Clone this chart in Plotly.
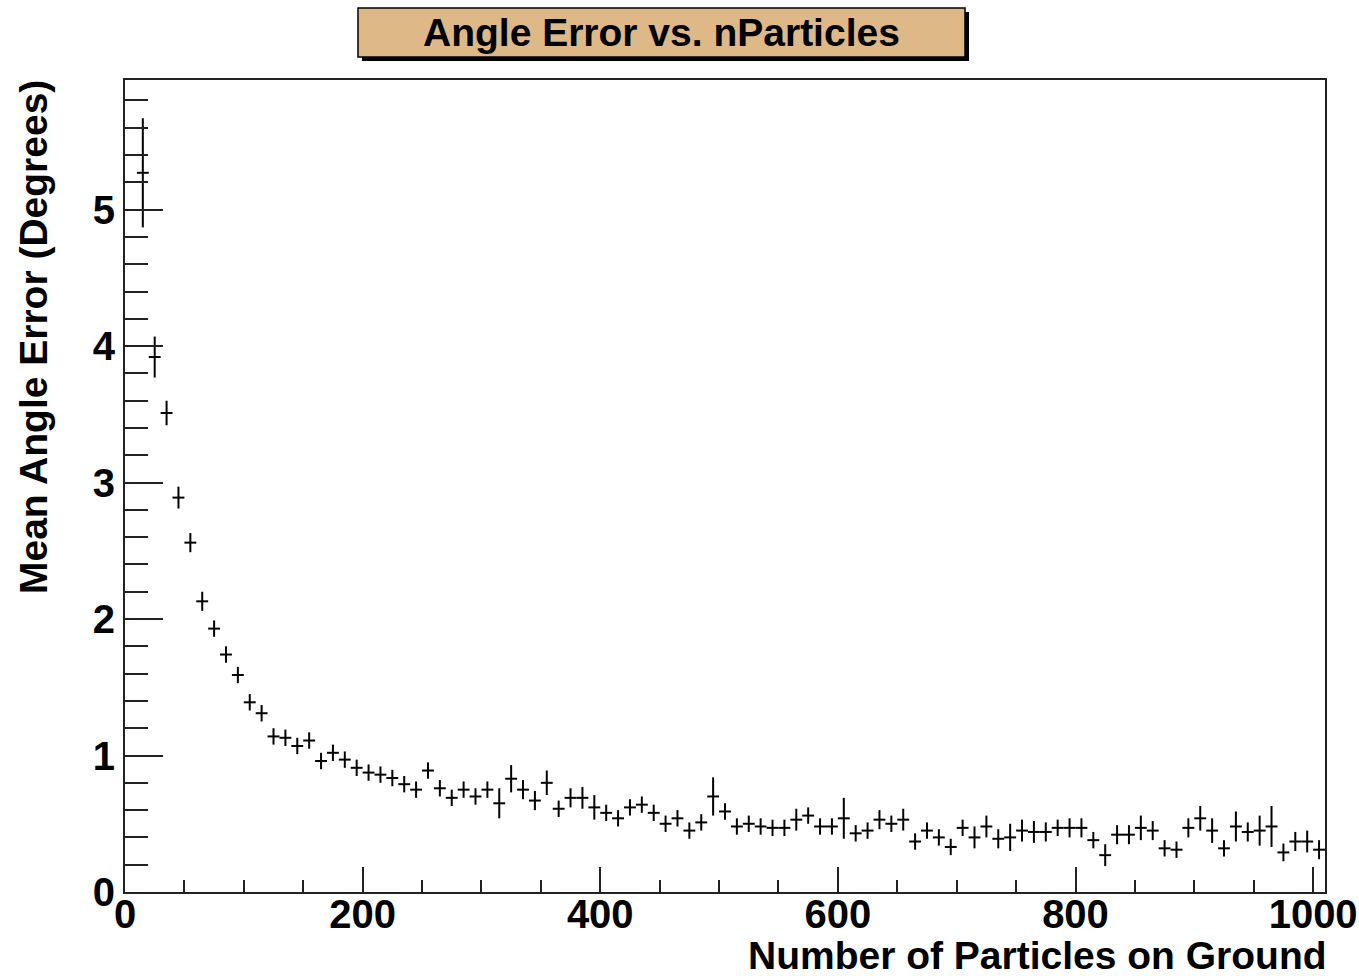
import plotly.graph_objects as go

# Bin centres (number of particles on ground)
n_particles = [15 + 10 * i for i in range(100)]

mean_angle_error = [
    5.27, 3.92, 3.51, 2.89, 2.56, 2.13, 1.93, 1.74, 1.59, 1.39,
    1.31, 1.14, 1.13, 1.07, 1.11, 0.96, 1.02, 0.97, 0.91, 0.875,
    0.86, 0.835, 0.79, 0.75, 0.89, 0.76, 0.69, 0.75, 0.70, 0.75,
    0.65, 0.83, 0.75, 0.67, 0.80, 0.61, 0.69, 0.69, 0.62, 0.58,
    0.54, 0.62, 0.64, 0.58, 0.50, 0.54, 0.45, 0.51, 0.70, 0.59,
    0.48, 0.50, 0.48, 0.47, 0.47, 0.53, 0.56, 0.48, 0.48, 0.54,
    0.43, 0.45, 0.53, 0.50, 0.53, 0.37, 0.45, 0.40, 0.33, 0.47,
    0.40, 0.48, 0.39, 0.40, 0.45, 0.44, 0.44, 0.47, 0.47, 0.47,
    0.38, 0.27, 0.42, 0.42, 0.47, 0.45, 0.32, 0.31, 0.47, 0.54,
    0.45, 0.32, 0.48, 0.44, 0.45, 0.48, 0.29, 0.37, 0.37, 0.31,
]

error_of_mean = [
    0.40, 0.15, 0.09, 0.08, 0.07, 0.07, 0.06, 0.06, 0.06, 0.06,
    0.06, 0.06, 0.06, 0.06, 0.06, 0.06, 0.06, 0.06, 0.06, 0.06,
    0.06, 0.06, 0.06, 0.06, 0.06, 0.06, 0.06, 0.06, 0.06, 0.06,
    0.11, 0.10, 0.07, 0.07, 0.09, 0.06, 0.07, 0.08, 0.09, 0.06,
    0.06, 0.06, 0.06, 0.06, 0.06, 0.06, 0.06, 0.06, 0.14, 0.06,
    0.06, 0.06, 0.06, 0.06, 0.06, 0.08, 0.06, 0.06, 0.06, 0.15,
    0.06, 0.06, 0.07, 0.06, 0.08, 0.06, 0.06, 0.06, 0.06, 0.06,
    0.08, 0.08, 0.07, 0.10, 0.08, 0.08, 0.07, 0.06, 0.07, 0.07,
    0.06, 0.08, 0.07, 0.07, 0.09, 0.07, 0.06, 0.06, 0.07, 0.09,
    0.09, 0.06, 0.11, 0.07, 0.11, 0.15, 0.065, 0.07, 0.08, 0.07,
]

bin_half_width = 5

title_text = "Angle Error vs. nParticles"
x_title = "Number of Particles on Ground"
y_title = "Mean Angle Error (Degrees)"

FONT = "Liberation Sans"

# plot-area geometry in pixels
W, H = 1359, 976
L, R, T, B = 125, 1325, 80, 892
pw, ph = R - L, B - T


def px_x(p):
    return (p - L) / pw


def px_y(p):
    return (B - p) / ph


fig = go.Figure()
fig.add_trace(go.Scatter(
    x=n_particles,
    y=mean_angle_error,
    mode="markers",
    marker=dict(size=1, color="black", opacity=0),
    error_y=dict(type="data", array=error_of_mean, visible=True,
                 color="black", thickness=2, width=0),
    error_x=dict(type="constant", value=bin_half_width, visible=True,
                 color="black", thickness=2, width=0),
    showlegend=False,
    hoverinfo="x+y",
))

axis_common = dict(
    showgrid=False, zeroline=False, automargin=False,
    showline=True, linecolor="#222222", linewidth=2, mirror=True,
    ticks="inside", tickcolor="#222222", tickwidth=2,
    tickfont=dict(family=FONT, size=40, color="black", weight="bold"),
)

fig.update_xaxes(
    range=[0, 1010], tick0=0, dtick=200, ticklen=25, ticklabelstandoff=-14,
    minor=dict(dtick=50, ticklen=12, ticks="inside", tickcolor="#222222", tickwidth=2),
    **axis_common,
)
fig.update_yaxes(
    range=[0, 5.95], tick0=0, dtick=1, ticklen=38,
    minor=dict(dtick=0.2, ticklen=23, ticks="inside", tickcolor="#222222", tickwidth=2),
    **axis_common,
)

shapes = [
    # title shadow
    dict(type="rect", xref="paper", yref="paper",
         x0=px_x(362), x1=px_x(969), y0=px_y(61), y1=px_y(12),
         fillcolor="black", line=dict(width=0), layer="above"),
    # title box
    dict(type="rect", xref="paper", yref="paper",
         x0=px_x(358), x1=px_x(965), y0=px_y(57), y1=px_y(8),
         fillcolor="#DEB887", line=dict(color="black", width=1.5), layer="above"),
]

annotations = [
    dict(text=title_text, xref="paper", yref="paper",
         x=px_x(661), y=px_y(32), xanchor="center", yanchor="middle",
         showarrow=False,
         font=dict(family=FONT, size=39, color="black", weight="bold")),
    dict(text=x_title, xref="paper", yref="paper",
         x=px_x(1329), y=px_y(955), xanchor="right", yanchor="middle",
         showarrow=False,
         font=dict(family=FONT, size=39, color="black", weight="bold")),
    dict(text=y_title, xref="paper", yref="paper",
         x=px_x(34), y=px_y(78), xanchor="center", yanchor="top", textangle=-90,
         showarrow=False,
         font=dict(family=FONT, size=39, color="black", weight="bold")),
]

fig.update_layout(
    width=W, height=H,
    margin=dict(l=L, r=W - R, t=T, b=H - B, pad=0, autoexpand=False),
    paper_bgcolor="white", plot_bgcolor="white",
    shapes=shapes, annotations=annotations,
    showlegend=False,
)

fig.write_html("out.html")
